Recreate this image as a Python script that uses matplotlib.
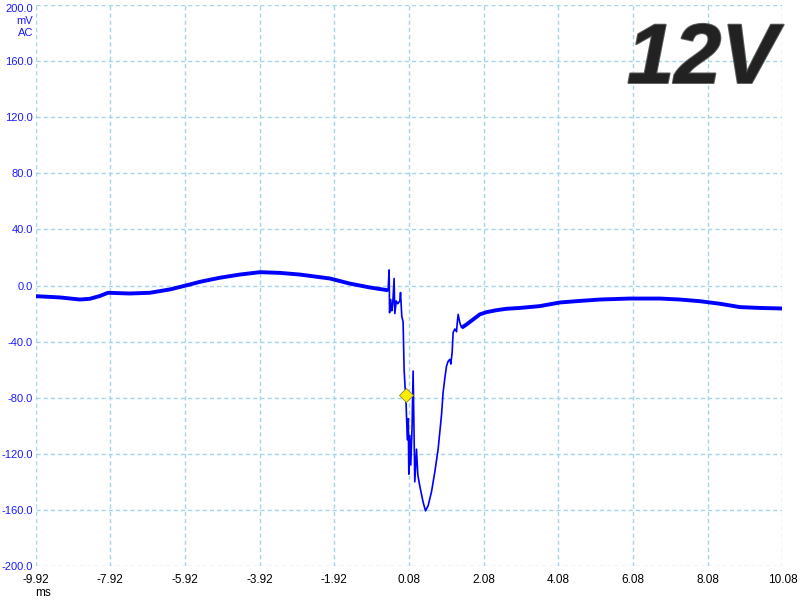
import numpy as np
import matplotlib
matplotlib.use("Agg")
import matplotlib.pyplot as plt
import matplotlib.patheffects as pe
import matplotlib.transforms as mtransforms

# waveform (time in ms, voltage in mV)
time_ms = [
    -9.92, -9.27, -8.73, -8.47, -8.20, -7.98, -7.40, -6.86, -6.32, -5.79,
    -5.52, -4.99, -4.45, -3.91, -3.38, -2.84, -2.04, -1.51, -0.97, -0.51,
    -0.48, -0.452, -0.44, -0.41, -0.38, -0.355, -0.319, -0.30, -0.26, -0.22,
    -0.166, -0.147, -0.113, -0.078, -0.051, -0.024, -0.006, 0.035, 0.061, 0.075,
    0.101, 0.128, 0.163, 0.190, 0.235, 0.281, 0.316, 0.369, 0.458, 0.522,
    0.592, 0.683, 0.771, 0.860, 0.951, 0.994, 1.040, 1.085, 1.128, 1.173,
    1.20, 1.235, 1.262, 1.307, 1.352, 1.374, 1.396, 1.441, 1.486, 1.529,
    1.620, 1.797, 1.976, 2.155, 2.423, 2.691, 3.047, 3.58, 4.12, 4.65,
    5.19, 5.99, 6.80, 7.33, 7.87, 8.40, 8.94, 9.47, 10.08,
]
voltage_mv = [
    -7.6, -8.5, -10.0, -9.5, -7.5, -5.2, -5.7, -5.2, -2.8, 0.7,
    2.6, 5.5, 7.8, 9.5, 9.0, 7.8, 5.0, 1.4, -1.4, -3.3,
    -3.6, 11.1, -19.4, -10.0, -18.0, -13.0, 5.0, -20.0, -11.0, -13.0,
    -11.0, -5.0, -22.0, -26.0, -60.0, -73.0, -78.0, -110.0, -95.0, -134.5,
    -107.0, -128.0, -100.0, -61.0, -140.0, -116.7, -135.0, -143.0, -154.5, -160.7,
    -157.0, -147.0, -133.0, -116.7, -92.0, -76.0, -66.0, -57.4, -54.0, -52.7,
    -56.0, -47.7, -33.4, -31.0, -33.0, -26.0, -20.6, -26.6, -30.0, -29.4,
    -27.8, -24.2, -20.6, -19.0, -17.6, -16.6, -16.0, -14.7, -12.1, -11.0,
    -10.0, -9.3, -9.3, -10.0, -11.2, -13.0, -15.4, -16.0, -16.4,
]

trigger_ms = -0.006
trigger_mv = -78.0

x_ticks = [-9.92, -7.92, -5.92, -3.92, -1.92, 0.08, 2.08, 4.08, 6.08, 8.08, 10.08]
y_ticks = [-200, -160, -120, -80, -40, 0, 40, 80, 120, 160, 200]

BLUE = "#0000ff"
LABEL_BLUE = "#1a1aff"
GRID = "#a6d6e6"

plt.rcParams["font.family"] = ["Liberation Sans", "DejaVu Sans"]

fig = plt.figure(figsize=(8, 6), dpi=100)
ax = fig.add_axes([35.5 / 800, 34 / 600, 747 / 800, 561 / 600])

t = np.array(time_ms)
v = np.array(voltage_mv)

# thin trace through the whole capture, fat band where the noise sits
ax.plot(t, v, color=BLUE, lw=1.2, zorder=3)
quiet_pre = t <= -0.48
quiet_post = t >= 1.45
ax.plot(t[quiet_pre], v[quiet_pre], color=BLUE, lw=2.8, zorder=3,
        solid_capstyle="butt")
ax.plot(t[quiet_post], v[quiet_post], color=BLUE, lw=2.8, zorder=3,
        solid_capstyle="butt")

ax.plot([trigger_ms], [trigger_mv], marker="D", markersize=6.8,
        markerfacecolor="#ffee00", markeredgecolor="#8a8a30",
        markeredgewidth=0.6, zorder=4)

ax.set_xlim(x_ticks[0], x_ticks[-1])
ax.set_ylim(y_ticks[0], y_ticks[-1])
ax.set_xticks(x_ticks)
ax.set_yticks(y_ticks)
ax.set_xticklabels([f"{x:.2f}" for x in x_ticks], fontsize=8.5, color="black")
ax.set_yticklabels([f"{y:.1f}" for y in y_ticks], fontsize=8, color=LABEL_BLUE)
ax.tick_params(axis="both", length=0)
ax.tick_params(axis="x", pad=6)
ax.tick_params(axis="y", pad=2)
top_lbl = ax.get_yticklabels()[-1]
top_lbl.set_transform(top_lbl.get_transform() +
                      mtransforms.ScaledTranslation(0, -3 / 100, fig.dpi_scale_trans))

for s in ax.spines.values():
    s.set_visible(False)
ax.grid(True, color=GRID, lw=1.0, linestyle=(0, (3, 2.2)), zorder=1)
ax.set_axisbelow(True)

fig.text(33 / 800, 1 - 21.5 / 600, "mV", ha="right", va="center",
         fontsize=8, color=LABEL_BLUE)
fig.text(33 / 800, 1 - 33 / 600, "AC", ha="right", va="center",
         fontsize=8, color=LABEL_BLUE)
fig.text(43 / 800, 1 - 593 / 600, "ms", ha="center", va="center",
         fontsize=8.5, color="black")

fig.text(627 / 800, 1 - 83 / 600, "12V", ha="left", va="baseline",
         fontsize=61, fontweight="bold", fontstyle="italic", color="#222222",
         path_effects=[pe.withStroke(linewidth=1.4, foreground="#606060")])

fig.savefig("out.png", dpi=100)
plt.close(fig)
